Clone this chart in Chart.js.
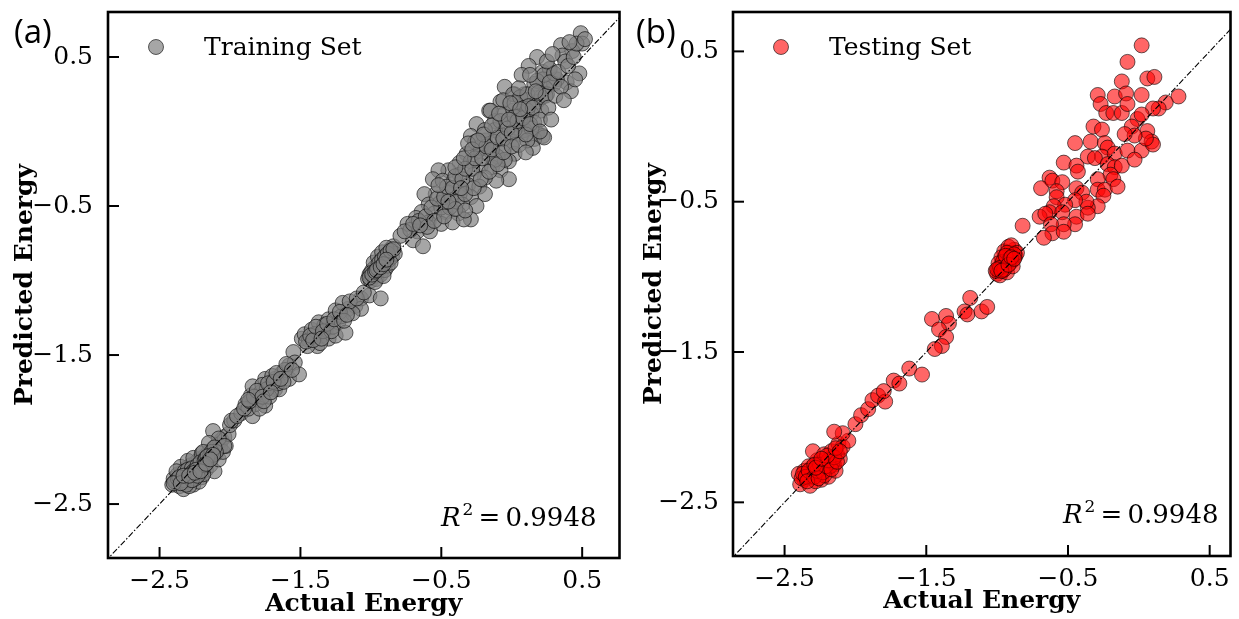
<!DOCTYPE html>
<html>
<head>
<meta charset="utf-8">
<script src="https://cdn.jsdelivr.net/npm/chart.js@4.4.1/dist/chart.umd.min.js"></script>
<style>
  html, body { margin: 0; padding: 0; background: #fff; }
  #wrap { position: relative; width: 1239px; height: 619px; overflow: hidden; }
  .painel { position: absolute; top: 0; }
  #painelA { left: 0; }
  #painelB { left: 628px; }
</style>
</head>
<body>
<div id="wrap">
  <div class="painel" id="painelA"><canvas id="graficoA" width="628" height="619"></canvas></div>
  <div class="painel" id="painelB"><canvas id="graficoB" width="611" height="619"></canvas></div>
</div>
<script>
/*************************************************
 * DADOS
 *************************************************/
const tickValores = [-2.5, -1.5, -0.5, 0.5];
const diagonal = [-3, 1];

// [energia real, energia prevista]
const treinoPontos = [
  // aglomerado inferior
  [-2.41,-2.37],[-2.40,-2.33],[-2.38,-2.35],[-2.37,-2.30],[-2.36,-2.38],[-2.35,-2.33],[-2.34,-2.29],
  [-2.33,-2.36],[-2.32,-2.31],[-2.31,-2.26],[-2.30,-2.34],[-2.29,-2.28],[-2.28,-2.24],[-2.28,-2.33],
  [-2.27,-2.30],[-2.26,-2.37],[-2.25,-2.26],[-2.24,-2.22],[-2.24,-2.31],[-2.23,-2.28],[-2.22,-2.20],
  [-2.21,-2.25],[-2.20,-2.32],[-2.19,-2.23],[-2.18,-2.18],[-2.17,-2.27],[-2.16,-2.21],[-2.15,-2.15],
  [-2.14,-2.24],[-2.13,-2.19],[-2.12,-2.13],[-2.11,-2.28],[-2.10,-2.16],[-2.09,-2.10],[-2.08,-2.20],
  [-2.07,-2.12],[-2.06,-2.07],[-2.05,-2.15],[-2.04,-2.05],[-2.03,-2.11],[-2.35,-2.25],[-2.30,-2.21],
  [-2.26,-2.19],[-2.22,-2.35],[-2.33,-2.40],[-2.38,-2.28],[-2.20,-2.16],[-2.29,-2.38],[-2.19,-2.30],
  [-2.25,-2.33],[-2.01,-2.03],[-2.12,-2.01],[-2.08,-2.06],[-2.04,-2.11],[-2.15,-2.09],[-2.19,-2.15],
  [-2.10,-2.15],[-2.00,-1.97],[-1.97,-1.94],
  [-2.39,-2.35],[-2.37,-2.33],[-2.34,-2.34],[-2.32,-2.28],[-2.30,-2.27],[-2.27,-2.26],[-2.26,-2.28],
  [-2.23,-2.24],[-2.21,-2.22],[-2.18,-2.21],[-2.17,-2.19],[-2.14,-2.17],[-2.13,-2.15],[-2.11,-2.12],
  [-2.32,-2.34],[-2.28,-2.30],[-2.24,-2.27],[-2.20,-2.27],[-2.16,-2.18],[-2.12,-2.17],[-2.36,-2.32],
  [-2.31,-2.37],[-2.27,-2.34],[-2.23,-2.31],[-2.18,-2.24],[-2.40,-2.36],[-2.35,-2.36],[-2.33,-2.31],
  [-2.29,-2.31],[-2.25,-2.29],[-2.21,-2.28],[-2.17,-2.23],[-2.14,-2.20],
  // aglomerado -1.9 a -1.5
  [-1.99,-1.94],[-1.92,-1.89],[-1.89,-1.83],[-1.84,-1.91],[-1.82,-1.83],[-1.85,-1.77],[-1.84,-1.71],
  [-1.78,-1.75],[-1.75,-1.84],[-1.75,-1.66],[-1.71,-1.71],[-1.68,-1.66],[-1.68,-1.73],[-1.65,-1.73],
  [-1.63,-1.62],[-1.58,-1.57],[-1.58,-1.66],[-1.55,-1.48],[-1.54,-1.55],[-1.51,-1.63],[-1.80,-1.80],
  [-1.77,-1.70],[-1.72,-1.78],[-1.87,-1.86],[-1.66,-1.69],[-1.61,-1.60],[-1.70,-1.64],[-1.79,-1.86],
  [-1.74,-1.73],[-1.62,-1.68],[-1.95,-1.91],[-1.90,-1.86],[-1.86,-1.81],[-1.83,-1.78],[-1.81,-1.74],
  [-1.77,-1.78],[-1.73,-1.69],[-1.69,-1.68],[-1.67,-1.62],[-1.64,-1.66],[-1.60,-1.56],[-1.56,-1.60],
  [-1.76,-1.81],[-1.71,-1.75],[-1.87,-1.80],
  // aglomerado -1.5 a -1.0
  [-1.49,-1.39],[-1.47,-1.36],[-1.44,-1.40],[-1.42,-1.33],[-1.38,-1.44],[-1.37,-1.28],[-1.35,-1.37],
  [-1.32,-1.33],[-1.30,-1.39],[-1.30,-1.26],[-1.25,-1.37],[-1.25,-1.20],[-1.23,-1.28],[-1.21,-1.24],
  [-1.18,-1.35],[-1.16,-1.19],[-1.11,-1.17],[-1.07,-1.12],[-1.07,-1.19],[-1.01,-1.10],[-1.40,-1.36],
  [-1.33,-1.30],[-1.27,-1.31],[-1.45,-1.44],[-1.13,-1.22],[-1.20,-1.15],[-1.36,-1.42],[-0.93,-1.12],
  [-1.46,-1.41],[-1.43,-1.37],[-1.41,-1.40],[-1.39,-1.31],[-1.34,-1.34],[-1.31,-1.29],[-1.28,-1.34],
  [-1.26,-1.26],[-1.22,-1.21],[-1.19,-1.27],[-1.15,-1.14],[-1.10,-1.12],[-1.05,-1.08],[-1.17,-1.23],
  [-1.35,-1.39],
  // aglomerado escuro perto de -0.9
  [-1.02,-0.99],[-1.01,-0.96],[-1.00,-1.00],[-0.99,-0.93],[-0.98,-0.97],[-0.97,-0.91],[-0.96,-0.95],
  [-0.96,-0.99],[-0.95,-0.89],[-0.94,-0.93],[-0.93,-0.87],[-0.93,-0.96],[-0.92,-0.90],[-0.91,-0.85],
  [-0.90,-0.93],[-0.90,-0.88],[-0.89,-0.83],[-0.88,-0.90],[-0.87,-0.81],[-0.87,-0.86],[-0.86,-0.79],
  [-0.85,-0.84],[-0.84,-0.77],[-0.83,-0.82],[-0.98,-0.88],[-0.95,-0.84],[-0.92,-0.81],[-0.89,-0.78],
  [-1.00,-0.95],[-0.97,-1.01],[-0.86,-0.88],[-0.91,-0.97],[-1.01,-0.98],[-0.99,-0.96],[-0.97,-0.94],
  [-0.95,-0.92],[-0.94,-0.88],[-0.92,-0.86],[-0.90,-0.84],[-0.88,-0.82],[-0.86,-0.80],[-0.84,-0.79],
  [-0.96,-0.93],[-0.93,-0.91],[-0.91,-0.89],[-0.89,-0.86],
  // aglomerado superior
  [0.49,0.66],[0.50,0.59],[0.35,0.58],[0.43,0.54],[0.36,0.51],[0.38,0.47],[0.48,0.39],[0.39,0.33],
  [0.42,0.27],[0.32,0.35],[0.18,0.50],[0.12,0.44],[0.07,0.38],[0.22,0.40],[0.27,0.42],[0.22,0.35],
  [0.30,0.32],[0.24,0.29],[0.16,0.32],[0.09,0.25],[0.02,0.25],[-0.05,0.30],[-0.08,0.20],[0.01,0.14],
  [0.11,0.21],[0.18,0.20],[0.21,0.14],[0.14,0.12],[-0.05,0.12],[-0.16,0.14],[-0.12,0.07],[-0.03,0.05],
  [0.07,0.05],[0.16,0.06],[0.18,-0.01],[0.22,-0.03],[0.16,-0.05],[0.15,-0.11],[0.07,-0.02],[0.01,-0.07],
  [-0.08,-0.02],[-0.12,0.01],[-0.25,0.05],[-0.29,-0.03],[-0.19,-0.06],[-0.12,-0.07],[-0.05,-0.11],
  [0.02,-0.15],[-0.02,-0.20],[-0.10,-0.17],[-0.17,-0.15],[-0.24,-0.13],[-0.32,-0.15],[-0.37,-0.21],
  [-0.29,-0.20],[-0.22,-0.23],[-0.14,-0.24],[-0.08,-0.26],[-0.02,-0.32],[-0.11,-0.33],[-0.19,-0.31],
  [-0.27,-0.29],[-0.37,-0.29],[-0.45,-0.26],[-0.52,-0.26],[-0.56,-0.32],[-0.49,-0.33],[-0.41,-0.33],
  [-0.31,-0.36],[-0.23,-0.37],[-0.19,-0.42],[-0.29,-0.44],[-0.37,-0.42],[-0.45,-0.41],[-0.54,-0.42],
  [-0.62,-0.42],[-0.59,-0.49],[-0.51,-0.48],[-0.43,-0.46],[-0.35,-0.49],[-0.25,-0.50],[-0.29,-0.59],
  [-0.38,-0.55],[-0.47,-0.54],[-0.55,-0.55],[-0.64,-0.54],[-0.68,-0.58],[-0.59,-0.61],[-0.50,-0.62],
  [-0.42,-0.61],[-0.34,-0.59],[-0.74,-0.62],[-0.67,-0.67],[-0.58,-0.67],[-0.79,-0.70],[-0.70,-0.73],
  [-0.63,-0.77],[-0.50,-0.51],[-0.06,0.21],[-0.15,0.14],[0.01,0.25],[0.02,0.19],[0.06,0.23],
  [0.09,0.16],[0.11,0.25],[0.05,0.10],[0.09,0.01],[0.02,0.01],[0.14,0.02],[0.23,-0.04],[0.11,-0.06],
  [0.18,0.34],[0.23,0.38],[0.30,0.39],[0.25,0.25],[0.21,0.23],[0.11,0.14],[0.02,0.10],[-0.08,0.07],
  [-0.19,0.01],[-0.22,-0.11],[-0.26,-0.07],[-0.31,-0.08],[-0.15,-0.13],[-0.05,-0.19],[-0.12,-0.19],
  [-0.72,-0.66],[-0.66,-0.60],[-0.61,-0.57],[-0.57,-0.51],[-0.53,-0.45],[-0.48,-0.44],[-0.46,-0.37],
  [-0.42,-0.38],[-0.40,-0.30],[-0.35,-0.32],[-0.33,-0.25],[-0.28,-0.25],[-0.26,-0.18],[-0.21,-0.18],
  [-0.18,-0.10],[-0.14,-0.12],[-0.10,-0.04],[-0.06,-0.05],[-0.03,0.02],[0.00,-0.01],[0.04,0.07],
  [0.08,0.09],[0.12,0.17],[0.15,0.16],[0.19,0.26],[0.24,0.24],[0.27,0.33],[0.33,0.40],[0.40,0.44],
  [0.44,0.50],[0.46,0.59],[0.52,0.62],[-0.44,-0.51],[-0.39,-0.47],[-0.33,-0.42],[-0.27,-0.38],
  [-0.22,-0.32],[-0.16,-0.27],[-0.10,-0.22],[-0.06,-0.14],[0.00,-0.10],[0.05,-0.09],[0.10,-0.02],
  [0.13,0.05],[0.20,0.08],[0.26,0.16],[0.31,0.24],[0.35,0.30],[-0.60,-0.64],[-0.55,-0.60],
  [-0.48,-0.57],[-0.40,-0.52],[-0.33,-0.53],[-0.52,-0.36],[-0.40,-0.24],[-0.34,-0.18],[-0.28,-0.12],
  [-0.20,-0.02],[-0.14,0.04],[-0.09,0.12],[-0.01,0.19],[0.05,0.29],[0.13,0.38],[0.25,0.47],
  [0.29,0.52],[0.41,0.60],[0.45,0.35],[0.37,0.21],[0.28,0.08],[0.20,0.00],[0.10,-0.14],[-0.76,-0.67],
  [-0.70,-0.62],[-0.65,-0.63],[-0.45,-0.47],[0.06,0.15],[-0.02,0.08],[0.17,0.27],[-0.24,-0.06],
  [-0.36,-0.38]
];

const testePontos = [
  // aglomerado inferior
  [-2.40,-2.31],[-2.36,-2.29],[-2.31,-2.27],[-2.26,-2.24],[-2.22,-2.22],[-2.17,-2.20],[-2.36,-2.35],
  [-2.31,-2.33],[-2.26,-2.31],[-2.21,-2.29],[-2.15,-2.25],[-2.39,-2.38],[-2.32,-2.39],[-2.24,-2.35],
  [-2.19,-2.33],[-2.14,-2.29],[-2.11,-2.21],[-2.34,-2.31],[-2.28,-2.36],[-2.23,-2.27],[-2.18,-2.26],
  [-2.30,-2.30],[-2.25,-2.28],[-2.20,-2.24],[-2.38,-2.34],[-2.33,-2.26],[-2.27,-2.22],[-2.22,-2.32],
  [-2.16,-2.23],[-2.13,-2.18],[-2.30,-2.16],[-2.22,-2.18],[-2.17,-2.16],[-2.12,-2.11],[-2.09,-2.13],
  [-2.05,-2.09],[-2.09,-2.04],[-2.15,-2.03],
  [-2.37,-2.31],[-2.35,-2.33],[-2.33,-2.29],[-2.29,-2.33],[-2.27,-2.29],[-2.25,-2.25],[-2.23,-2.30],
  [-2.21,-2.26],[-2.19,-2.22],[-2.17,-2.28],[-2.15,-2.20],[-2.13,-2.23],[-2.34,-2.36],[-2.29,-2.25],
  [-2.26,-2.34],[-2.20,-2.19],[-2.14,-2.14],[-2.11,-2.16],[-2.28,-2.27],[-2.24,-2.21],
  // faixa intermediaria
  [-2.00,-1.98],[-1.96,-1.92],[-1.91,-1.88],[-1.88,-1.82],[-1.84,-1.79],[-1.79,-1.83],[-1.80,-1.76],
  [-1.73,-1.69],[-1.69,-1.71],[-1.62,-1.61],[-1.53,-1.65],[-1.46,-1.28],[-1.36,-1.26],[-1.34,-1.31],
  [-1.41,-1.35],[-1.36,-1.40],[-1.39,-1.46],[-1.44,-1.48],[-1.19,-1.14],[-1.23,-1.23],[-1.21,-1.25],
  [-1.11,-1.23],[-1.07,-1.20],
  // aglomerado escuro perto de -0.9
  [-1.00,-0.98],[-0.99,-0.95],[-0.98,-0.99],[-0.97,-0.92],[-0.96,-0.96],[-0.95,-0.88],[-0.94,-0.93],
  [-0.93,-0.97],[-0.92,-0.86],[-0.91,-0.91],[-0.90,-0.84],[-0.89,-0.89],[-0.88,-0.82],[-0.87,-0.86],
  [-0.95,-0.83],[-0.92,-0.80],[-0.97,-0.87],[-1.01,-0.96],[-0.90,-0.79],[-0.86,-0.84],[-0.94,-0.90],
  [-0.89,-0.93],[-0.99,-0.91],[-0.96,-0.90],[-0.93,-0.84],[-0.91,-0.88],[-0.88,-0.85],[-0.98,-0.94],
  [-0.95,-0.95],[-1.00,-0.95],[-0.97,-0.96],[-0.94,-0.86],[-0.92,-0.92],[-0.90,-0.87],[-0.88,-0.88],
  // aglomerado superior
  [0.02,0.54],[-0.08,0.43],[0.06,0.32],[0.11,0.33],[-0.12,0.30],[-0.29,0.21],[-0.17,0.20],[-0.09,0.22],
  [0.02,0.21],[0.28,0.20],[0.19,0.16],[0.14,0.12],[0.10,0.12],[-0.27,0.15],[-0.23,0.09],[-0.18,0.09],
  [-0.12,0.09],[-0.08,0.15],[-0.01,0.05],[0.02,0.08],[-0.05,0.00],[-0.32,0.00],[-0.26,-0.02],
  [-0.45,-0.11],[-0.34,-0.10],[-0.24,-0.11],[-0.22,-0.14],[-0.26,-0.20],[-0.17,-0.18],[-0.08,-0.16],
  [0.02,-0.16],[0.06,-0.03],[0.09,-0.10],[0.10,-0.12],[0.05,-0.08],[-0.03,-0.06],[-0.10,-0.05],
  [-0.53,-0.24],[-0.44,-0.26],[-0.36,-0.20],[-0.31,-0.21],[-0.22,-0.25],[-0.17,-0.27],[-0.12,-0.26],
  [-0.03,-0.22],[-0.20,-0.32],[-0.18,-0.35],[-0.63,-0.34],[-0.69,-0.41],[-0.61,-0.36],[-0.54,-0.37],
  [-0.43,-0.30],[-0.44,-0.41],[-0.40,-0.44],[-0.29,-0.35],[-0.29,-0.42],[-0.24,-0.42],[-0.15,-0.40],
  [-0.25,-0.46],[-0.29,-0.53],[-0.36,-0.54],[-0.37,-0.50],[-0.45,-0.49],[-0.58,-0.43],[-0.58,-0.47],
  [-0.52,-0.52],[-0.60,-0.53],[-0.63,-0.57],[-0.54,-0.57],[-0.70,-0.60],[-0.66,-0.58],[-0.44,-0.60],
  [-0.45,-0.65],[-0.53,-0.65],[-0.62,-0.65],[-0.61,-0.71],[-0.53,-0.70],[-0.67,-0.74],[-0.82,-0.66],
  [-0.36,-0.58]
];

/*************************************************
 * UTILIDADES
 *************************************************/
const SERIF = "'DejaVu Serif', serif";

function rotuloTick(v) {
  return v.toFixed(1).replace('-', '\u2212');
}

function linha(ctx, x1, y1, x2, y2) {
  ctx.beginPath();
  ctx.moveTo(x1, y1);
  ctx.lineTo(x2, y2);
  ctx.stroke();
}

// moldura, ticks para dentro, legenda, R2 e rotulo do painel
const molduraPlugin = {
  id: 'moldura',
  afterDatasetsDraw(chart, args, opts) {
    const { ctx, chartArea: a, scales } = chart;
    ctx.save();

    ctx.strokeStyle = '#000';
    ctx.lineWidth = 2;
    scales.x.ticks.forEach(t => {
      const px = scales.x.getPixelForValue(t.value);
      linha(ctx, px, a.bottom, px, a.bottom - 11);
    });
    scales.y.ticks.forEach(t => {
      const py = scales.y.getPixelForValue(t.value);
      linha(ctx, a.left, py, a.left + 11, py);
    });

    ctx.lineWidth = 2.6;
    ctx.strokeRect(a.left, a.top, a.right - a.left, a.bottom - a.top);

    // legenda
    const ds = chart.data.datasets[1];
    ctx.beginPath();
    ctx.arc(a.left + 48, a.top + 35, 7.5, 0, Math.PI * 2);
    ctx.fillStyle = ds.backgroundColor;
    ctx.fill();
    ctx.lineWidth = 1;
    ctx.strokeStyle = ds.borderColor;
    ctx.stroke();
    ctx.fillStyle = '#000';
    ctx.font = '25px ' + SERIF;
    ctx.textBaseline = 'alphabetic';
    ctx.textAlign = 'left';
    ctx.fillText(ds.label, a.left + 96, a.top + 43);

    // R^2
    const fR = 'italic 26px ' + SERIF, fSup = '17px ' + SERIF, fTxt = '26px ' + SERIF;
    const resto = '\u2009=\u2009' + opts.r2;
    ctx.font = fR; const wR = ctx.measureText('R').width;
    ctx.font = fSup; const wS = ctx.measureText('2').width;
    ctx.font = fTxt; const wT = ctx.measureText(resto).width;
    const x0 = a.right - opts.r2Dir - (wR + wS + 2 + wT);
    const yb = a.bottom - opts.r2Base;
    ctx.font = fR; ctx.fillText('R', x0, yb);
    ctx.font = fSup; ctx.fillText('2', x0 + wR + 2, yb - 11);
    ctx.font = fTxt; ctx.fillText(resto, x0 + wR + wS + 2, yb);

    // rotulo (a)/(b)
    ctx.font = "33px 'Open Sans', sans-serif";
    ctx.fillText(opts.painel, opts.painelX, 43);

    ctx.restore();
  }
};

/*************************************************
 * GRAFICOS
 *************************************************/
function criarGrafico(id, cfg) {
  return new Chart(document.getElementById(id).getContext('2d'), {
    data: {
      datasets: [
        {
          type: 'line',
          data: diagonal.map(v => ({ x: v, y: v })),
          borderColor: '#000',
          borderWidth: 1.1,
          borderDash: [6, 2, 1.5, 2],
          pointRadius: 0,
          fill: false
        },
        {
          type: 'scatter',
          label: cfg.rotulo,
          data: cfg.pontos.map(p => ({ x: p[0], y: p[1] })),
          backgroundColor: cfg.cor,
          borderColor: cfg.borda,
          borderWidth: 1,
          pointRadius: 7.5,
          pointHoverRadius: 7.5
        }
      ]
    },
    options: {
      responsive: false,
      animation: false,
      layout: { padding: { top: 12, right: cfg.dir, left: 0, bottom: 0 } },
      plugins: {
        legend: { display: false },
        tooltip: { enabled: false },
        moldura: { painel: cfg.painel, painelX: cfg.painelX, r2: '0.9948', r2Dir: cfg.r2Dir, r2Base: cfg.r2Base }
      },
      scales: {
        x: {
          type: 'linear',
          min: cfg.xMin, max: cfg.xMax,
          afterBuildTicks: s => { s.ticks = tickValores.map(v => ({ value: v })); },
          afterFit: s => { s.height = cfg.alturaX; s.paddingLeft = 0; s.paddingRight = 0; },
          grid: { display: false },
          border: { display: false },
          ticks: {
            callback: v => rotuloTick(v),
            font: { family: SERIF, size: 25 },
            color: '#000',
            padding: cfg.padX,
            maxRotation: 0,
            autoSkip: false
          },
          title: {
            display: true,
            text: 'Actual Energy',
            font: { family: SERIF, size: 25, weight: 'bold' },
            color: '#000',
            padding: { top: 0, bottom: cfg.tituloX }
          }
        },
        y: {
          type: 'linear',
          min: cfg.yMin, max: cfg.yMax,
          afterBuildTicks: s => { s.ticks = tickValores.map(v => ({ value: v })); },
          afterFit: s => { s.width = cfg.larguraY; s.paddingTop = 0; s.paddingBottom = 0; },
          grid: { display: false },
          border: { display: false },
          ticks: {
            callback: v => rotuloTick(v),
            font: { family: SERIF, size: 25 },
            color: '#000',
            padding: cfg.padY,
            autoSkip: false
          },
          title: {
            display: true,
            text: 'Predicted Energy',
            font: { family: SERIF, size: 25, weight: 'bold' },
            color: '#000',
            padding: { top: cfg.tituloY, bottom: 0 }
          }
        }
      }
    },
    plugins: [molduraPlugin]
  });
}

criarGrafico('graficoA', {
  rotulo: 'Training Set',
  pontos: treinoPontos,
  cor: 'rgba(128,128,128,0.7)',
  borda: 'rgba(0,0,0,0.6)',
  painel: '(a)', painelX: 14,
  xMin: -2.866, xMax: 0.765, yMin: -2.862, yMax: 0.802,
  dir: 6, alturaX: 61, larguraY: 108,
  padX: 0, padY: 7, tituloX: 0, tituloY: 10,
  r2Dir: 23, r2Base: 32
});

criarGrafico('graficoB', {
  rotulo: 'Testing Set',
  pontos: testePontos,
  cor: 'rgba(255,0,0,0.6)',
  borda: 'rgba(0,0,0,0.6)',
  painel: '(b)', painelX: 8,
  xMin: -2.864, xMax: 0.647, yMin: -2.857, yMax: 0.762,
  dir: 3, alturaX: 63, larguraY: 105,
  padX: 0, padY: 6, tituloX: 3, tituloY: 11,
  r2Dir: 12, r2Base: 33
});
</script>
</body>
</html>
